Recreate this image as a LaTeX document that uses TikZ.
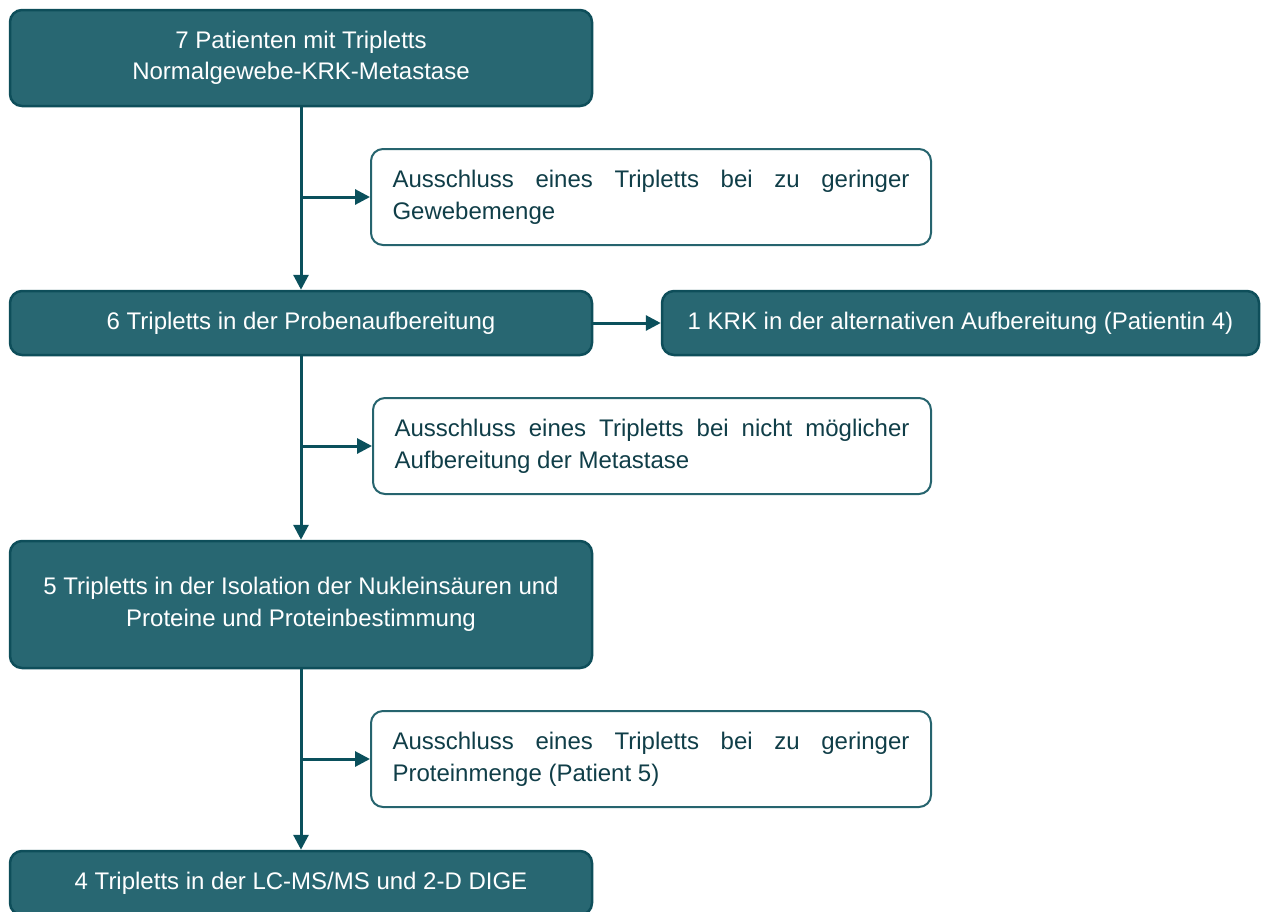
\documentclass[tikz,border=0pt]{standalone}
\usepackage{fontspec}
\setmainfont{Liberation Sans}
\usetikzlibrary{arrows.meta}
\definecolor{tealfill}{RGB}{40,103,114}
\definecolor{tealdark}{RGB}{14,78,90}
\definecolor{tealline}{RGB}{10,80,92}
\definecolor{tealtext}{RGB}{16,62,72}
\definecolor{tealborder}{RGB}{38,100,110}
\newcommand\exfont{\fontsize{24}{32}\selectfont\hyphenpenalty=10000\relax\exhyphenpenalty=10000\relax\tolerance=10000\relax}
\tikzset{
  x=1pt, y=-1pt,
  mainbox/.style={draw=tealdark, line width=2.5pt, fill=tealfill, rounded corners=12pt,
    text=white, align=center, inner sep=0pt,
    font=\fontsize{24}{31.5}\selectfont},
  exbox/.style={draw=tealborder, line width=2pt, fill=white, rounded corners=12pt,
    text=tealtext, align=justify, text width=517pt, inner xsep=21.5pt, inner ysep=0pt,
    minimum height=96pt, font=\exfont},
  flow/.style={draw=tealline, line width=3pt, -{Triangle[length=15pt,width=15pt]}},
}
\begin{document}
\begin{tikzpicture}
\useasboundingbox (0,0) rectangle (1263,911);
\begin{scope}
\clip (0,0) rectangle (1263,911);
\node[mainbox, minimum width=582pt, minimum height=96pt] (A) at (301,58) {7 Patienten mit Tripletts\\Normalgewebe-KRK-Metastase};
\node[exbox] (E1) at (651,197) {Ausschluss eines Tripletts bei zu geringer Gewebemenge};
\node[mainbox, minimum width=582pt, minimum height=64pt] (B) at (301,323) {6 Tripletts in der Probenaufbereitung};
\node[mainbox, minimum width=597pt, minimum height=64pt] (B2) at (960.5,323) {1 KRK in der alternativen Aufbereitung (Patientin 4)};
\node[exbox, text width=515pt] (E2) at (652,446) {Ausschluss eines Tripletts bei nicht möglicher Aufbereitung der Metastase};
\node[mainbox, minimum width=582pt, minimum height=127pt] (C) at (301,604.5) {5 Tripletts in der Isolation der Nukleinsäuren und\\Proteine und Proteinbestimmung};
\node[exbox] (E3) at (651,759) {Ausschluss eines Tripletts bei zu geringer Proteinmenge (Patient 5)};
\node[mainbox, minimum width=582pt, minimum height=64pt] (D) at (301,883) {4 Tripletts in der LC-MS/MS und 2-D DIGE};

\draw[flow] (A.south) -- (B.north);
\draw[flow] (A.south |- E1.west) -- (E1.west);
\draw[flow] (B.east) -- (B2.west);
\draw[flow] (B.south) -- (C.north);
\draw[flow] (B.south |- E2.west) -- (E2.west);
\draw[flow] (C.south) -- (D.north);
\draw[flow] (C.south |- E3.west) -- (E3.west);
\end{scope}
\end{tikzpicture}
\end{document}
